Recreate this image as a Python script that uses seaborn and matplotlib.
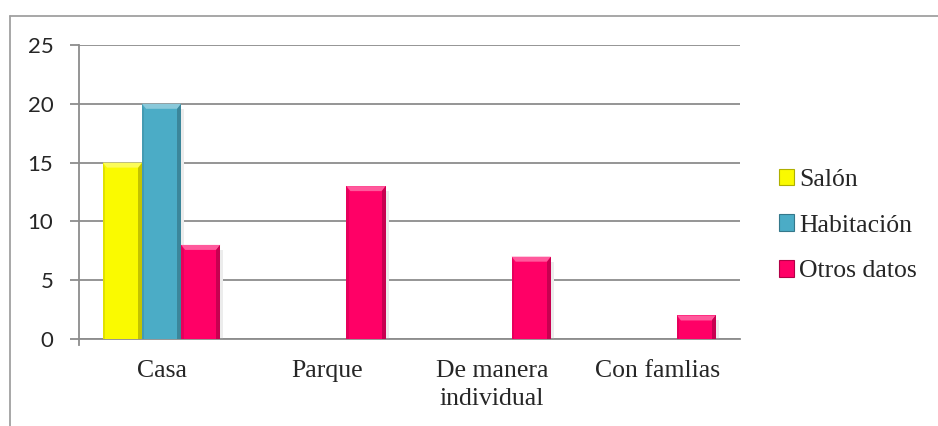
import matplotlib
matplotlib.use("Agg")
import matplotlib.pyplot as plt
import matplotlib.colors as mcolors
from matplotlib.font_manager import FontProperties
from matplotlib.patches import Patch, Polygon
from matplotlib.lines import Line2D
import seaborn as sns
import pandas as pd

# Data
categories = ["Casa", "Parque", "De manera\nindividual", "Con famlias"]
series = ["Salón", "Habitación", "Otros datos"]
salon = [15, 0, 0, 0]
habitacion = [20, 0, 0, 0]
otros_datos = [8, 13, 7, 2]
y_ticks = [0, 5, 10, 15, 20, 25]

colors = {"Salón": "#FAFA00", "Habitación": "#4BACC6", "Otros datos": "#FF0066"}

rows = []
for name, vals in zip(series, [salon, habitacion, otros_datos]):
    for cat, v in zip(categories, vals):
        rows.append({"categoria": cat, "serie": name, "valor": v})
df = pd.DataFrame(rows)

sns.set_theme(style="white")
serif_fp = FontProperties(family=["Liberation Serif", "DejaVu Serif"], size=18.5)
sans_fp = FontProperties(family=["Lato", "DejaVu Sans"], size=16)

fig = plt.figure(figsize=(9.38, 4.26), dpi=100)
ax = fig.add_axes([0.08422, 0.20423, 0.70469, 0.69014])

sns.barplot(data=df, x="categoria", y="valor", hue="serie",
            order=categories, hue_order=series, palette=colors,
            width=0.71, gap=0, linewidth=0, saturation=1,
            errorbar=None, legend=False, ax=ax, zorder=3)

# bevelled look on each bar
px_x = 1.0 / 165.25
px_y = 25.0 / 294.0
for bar in ax.patches:
    h = bar.get_height()
    if h <= 0:
        continue
    x0 = bar.get_x()
    w = bar.get_width()
    rgb = mcolors.to_rgb(bar.get_facecolor())
    light = tuple(min(1, c + (1 - c) * 0.35) for c in rgb)
    dark = tuple(c * 0.78 for c in rgb)
    mid = tuple(c * 0.9 for c in rgb)
    bx = 4 * px_x
    by = 5 * px_y
    # top bevel
    ax.add_patch(Polygon([(x0, h), (x0 + w, h), (x0 + w - bx, h - by), (x0 + bx, h - by)],
                         closed=True, facecolor=light, edgecolor="none", zorder=4))
    # right bevel
    ax.add_patch(Polygon([(x0 + w, h), (x0 + w, 0), (x0 + w - bx, 0), (x0 + w - bx, h - by)],
                         closed=True, facecolor=dark, edgecolor="none", zorder=4))
    # left bevel
    ax.add_patch(Polygon([(x0, h), (x0, 0), (x0 + bx * 0.6, 0), (x0 + bx * 0.6, h - by)],
                         closed=True, facecolor=mid, edgecolor="none", zorder=4))
    # soft shadow on the right
    ax.add_patch(Polygon([(x0 + w, h - by), (x0 + w + 3 * px_x, h - by), (x0 + w + 3 * px_x, 0), (x0 + w, 0)],
                         closed=True, facecolor="#ececec", edgecolor="none", zorder=2.5))

grid_c = "#8C8C8C"
ax.set_ylim(0, 25)
ax.set_xlim(-0.5, len(categories) - 0.5)
ax.set_yticks(y_ticks)
ax.set_yticklabels([str(t) for t in y_ticks], fontproperties=sans_fp)
ax.yaxis.grid(True, color=grid_c, linewidth=1.3, zorder=0)
ax.xaxis.grid(False)
ax.set_axisbelow(True)

ax.set_xticks(range(len(categories)))
ax.set_xticklabels(categories, fontproperties=serif_fp, va="top")
for t in ax.get_xticklabels():
    t.set_linespacing(1.35)
ax.set_xticks([i - 0.5 for i in range(len(categories) + 1)], minor=True)
ax.tick_params(axis="x", which="major", length=0, pad=15)
ax.tick_params(axis="x", which="minor", length=6, width=1.3, color=grid_c, direction="out")
ax.tick_params(axis="y", which="major", length=6.5, width=1.3, color=grid_c, direction="out", pad=12, left=True)
ax.set_xlabel("")
ax.set_ylabel("")

for s in ["top", "right"]:
    ax.spines[s].set_visible(False)
for s in ["left", "bottom"]:
    ax.spines[s].set_color(grid_c)
    ax.spines[s].set_linewidth(1.3)
ax.spines["left"].set_bounds(-0.5, 25)

handles = [Patch(facecolor=colors[s], edgecolor=tuple(c * 0.7 for c in mcolors.to_rgb(colors[s])),
                 linewidth=0.8) for s in series]
leg = fig.legend(handles, series, loc="center left", bbox_to_anchor=(0.830, 0.4707),
                 frameon=False, prop=serif_fp,
                 handlelength=0.6, handleheight=0.6, handletextpad=0.2, labelspacing=0.92,
                 borderpad=0, borderaxespad=0)
for t in leg.get_texts():
    t.set_fontproperties(serif_fp)

# outer chart frame
fig.add_artist(Line2D([9.5 / 938, 9.5 / 938], [0, 1 - 16 / 426], transform=fig.transFigure,
                      color="#A0A0A0", linewidth=1.3))
fig.add_artist(Line2D([9.5 / 938, 1], [1 - 16 / 426, 1 - 16 / 426], transform=fig.transFigure,
                      color="#A0A0A0", linewidth=1.3))

fig.savefig("out.png", dpi=100, facecolor="white")
